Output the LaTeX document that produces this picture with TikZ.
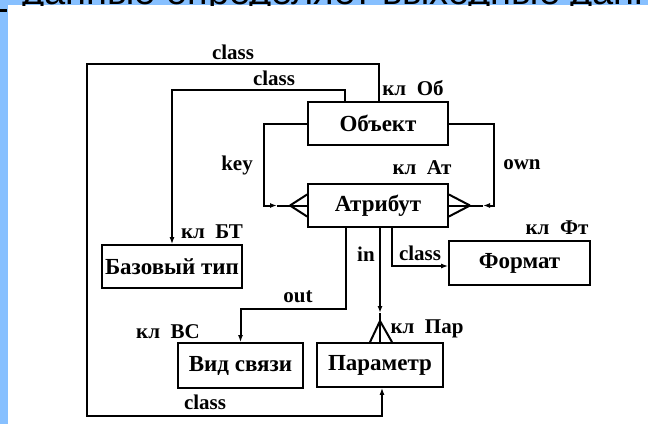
\documentclass[tikz,border=0pt]{standalone}
\usepackage{fontspec}
\setmainfont{Liberation Serif}
\newfontfamily\headfont{Liberation Sans}
\usetikzlibrary{positioning,arrows.meta,calc}
\definecolor{stripblue}{RGB}{135,192,255}

\begin{document}
\begin{tikzpicture}[x=1pt,y=-1pt,
      font=\fontsize{21}{24}\selectfont\bfseries,
      box/.style={draw,line width=1.8pt,minimum width=140pt,minimum height=43pt,inner sep=0pt,
                  font=\fontsize{23}{26}\selectfont\bfseries},
      lbl/.style={inner sep=0pt},
      line/.style={line width=2pt},
      arr/.style={line width=2pt,-{Latex[length=7pt,width=5pt]}}]
    \useasboundingbox (0,0) rectangle (648,424);
    % strips of the slide behind the figure
    \fill[stripblue] (0,0) rectangle (8,424);
    \fill[stripblue] (0,0) rectangle (648,5);
    \fill (0,9) rectangle (7,12);
    \begin{scope}
      \clip (0,0) rectangle (648,5);
      \node[anchor=base west,inner sep=0pt,font=\headfont\fontsize{38}{40}\selectfont] (head) at (22,4) {данные определяет выходные данные};
    \end{scope}
    % entities
    \node[box] (obj) at (378,123.5) {Объект};
    \node[box] (attr) at (378,205.5) {Атрибут};
    \node[box] (base) at (172,266.5) {Базовый тип};
    \node[box,minimum width=141pt,minimum height=44pt] (fmt) at (519.5,263) {Формат};
    \node[box,minimum width=125pt,minimum height=45pt] (link) at (240.5,365.5) {Вид связи};
    \node[box,minimum width=126pt,minimum height=44pt] (param) at (380,365) {Параметр};
    % points of the crow's feet
    \coordinate (keydot) at (277,205.5);
    \coordinate (keyfoot) at (290,205.5);
    \coordinate (owndot) at (483,205.5);
    \coordinate (ownfoot) at (470,205.5);
    \coordinate (indot) at (380,313);
    \coordinate (infoot) at (380,321);
    % class links
    \draw[arr] ($(obj.north)+(1,0)$) -- ++(0,-37) -| (87,416) -| ($(param.south)+(2,0)$);
    \draw[arr] ($(obj.north)+(-33,0)$) -- ++(0,-11) -| (base.north);
    \draw[arr] ($(attr.south)+(14,0)$) |- ($(fmt.west)+(0,3)$);
    % key / own
    \draw[arr] (obj.west) -- ++(-43,0) |- (keydot);
    \draw[line] (keydot) -- (keyfoot);
    \foreach \d in {-11,0,11}
      \draw[line] (keyfoot) -- ($(attr.west)+(0,\d)$);
    \draw[arr] (obj.east) -- ++(45,0) |- (owndot);
    \draw[line] (owndot) -- (ownfoot);
    \foreach \d in {-11,0,11}
      \draw[line] (ownfoot) -- ($(attr.east)+(0,\d)$);
    % in / out
    \draw[arr] ($(attr.south)+(-32,0)$) -- ++(0,81) -| (link.north);
    \draw[arr] ($(attr.south)+(2,0)$) -- (indot);
    \draw[line] (indot) -- (infoot);
    \foreach \d in {-10,0,12}
      \draw[line] (infoot) -- ($(param.north)+(\d,0)$);
    % labels
    \node[lbl] (lclassA) at (233,52) {class};
    \node[lbl] (lclassB) at (274,78) {class};
    \node[lbl] (lob) at (413,88) {кл\ \ Об};
    \node[lbl] (lkey) at (237,165) {key};
    \node[lbl] (lown) at (522,165) {own};
    \node[lbl] (lat) at (422,168) {кл\ \ Ат};
    \node[lbl] (lbt) at (212,232) {кл\ \ БТ};
    \node[lbl] (lft) at (557,228) {кл\ \ Фт};
    \node[lbl] (lin) at (366,254) {in};
    \node[lbl] (lclassC) at (420,253) {class};
    \node[lbl] (lout) at (298,297) {out};
    \node[lbl] (lvs) at (168,332) {кл\ \ ВС};
    \node[lbl] (lpar) at (427,329) {кл\ \ Пар};
    \node[lbl] (lclassD) at (205,402) {class};
  \end{tikzpicture}
\end{document}
